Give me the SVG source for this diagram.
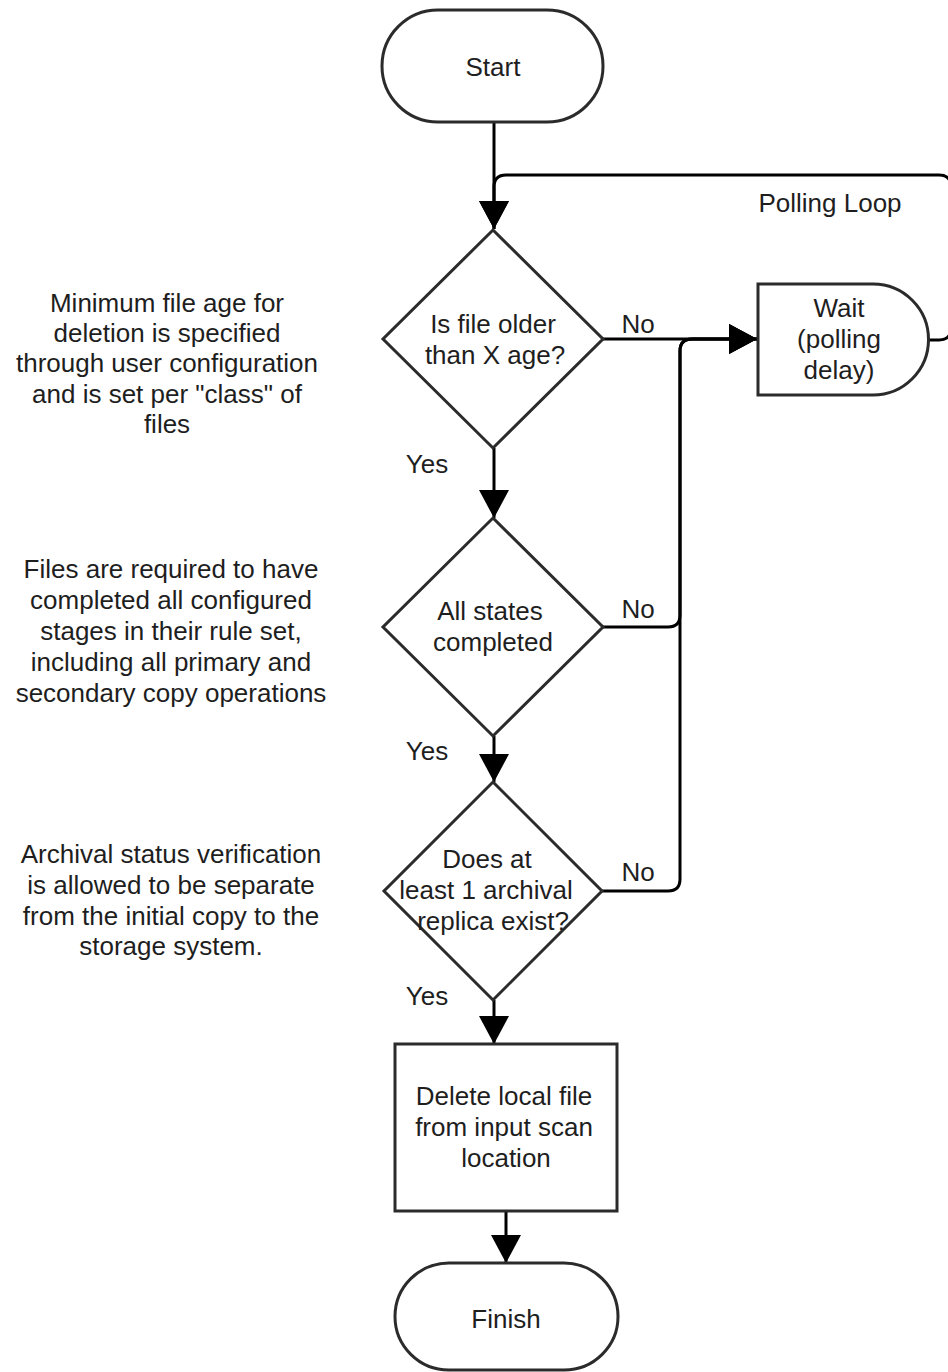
<svg xmlns="http://www.w3.org/2000/svg" width="948" height="1372" viewBox="0 0 948 1372">
  <style>
    .shape { fill: #ffffff; stroke: #2b2b2b; stroke-width: 3; }
    .edge { fill: none; stroke: #000000; stroke-width: 3; }
    text { font-family: "Liberation Sans", Arial, Helvetica, sans-serif; font-size: 26px; fill: #1e1e1e; }
    .c { text-anchor: middle; }
  </style>
  <defs>
    <marker id="arrow" markerUnits="userSpaceOnUse" markerWidth="30" markerHeight="30" refX="28" refY="15" orient="auto">
      <path d="M0,0 L28,15 L0,30 Z" fill="#000000"/>
    </marker>
  </defs>

  <rect width="948" height="1372" fill="#ffffff"/>

  <!-- connectors -->
  <g id="connectors">
    <path class="edge" d="M494,122 V229" marker-end="url(#arrow)"/>
    <path class="edge" d="M928,340 H939 Q951,340 951,328 V187 Q951,175 939,175 H506 Q494,175 494,187 V229" marker-end="url(#arrow)"/>
    <path class="edge" d="M603,339 H757" marker-end="url(#arrow)"/>
    <path class="edge" d="M603,627 H668 Q680,627 680,615 V351 Q680,339 692,339 H757" marker-end="url(#arrow)"/>
    <path class="edge" d="M602,891 H668 Q680,891 680,879 V351 Q680,339 692,339 H757" marker-end="url(#arrow)"/>
    <path class="edge" d="M494,448 V518" marker-end="url(#arrow)"/>
    <path class="edge" d="M494,736 V782" marker-end="url(#arrow)"/>
    <path class="edge" d="M494,1000 V1044" marker-end="url(#arrow)"/>
    <path class="edge" d="M506,1211 V1263" marker-end="url(#arrow)"/>
    <text x="830" y="212" class="c">Polling Loop</text>
    <text x="638" y="333" class="c">No</text>
    <text x="638" y="618" class="c">No</text>
    <text x="638" y="881" class="c">No</text>
    <text x="427" y="473" class="c">Yes</text>
    <text x="427" y="760" class="c">Yes</text>
    <text x="427" y="1005" class="c">Yes</text>
  </g>

  <!-- start terminator -->
  <g id="start">
    <rect class="shape" x="382" y="10" width="221" height="112" rx="56" ry="56"/>
    <text x="493" y="76" class="c">Start</text>
  </g>

  <!-- decision: file age -->
  <g id="check-age">
    <path class="shape" d="M493,230 L603,339 L493,448 L383,339 Z"/>
    <text x="493" y="333" class="c">Is file older</text>
    <text x="495" y="364" class="c">than X age?</text>
  </g>

  <!-- wait / polling delay -->
  <g id="wait">
    <path class="shape" d="M758,284 H873 A55.5,55.5 0 0 1 873,395 H758 Z"/>
    <text x="839" y="317" class="c">Wait</text>
    <text x="839" y="348" class="c">(polling</text>
    <text x="839" y="379" class="c">delay)</text>
  </g>

  <!-- decision: states completed -->
  <g id="check-states">
    <path class="shape" d="M493,518 L603,627 L493,736 L383,627 Z"/>
    <text x="490" y="620" class="c">All states</text>
    <text x="493" y="651" class="c">completed</text>
  </g>

  <!-- decision: archival replica -->
  <g id="check-replica">
    <path class="shape" d="M493,782 L602,891 L493,1000 L384,891 Z"/>
    <text x="487" y="868" class="c">Does at</text>
    <text x="486" y="899" class="c">least 1 archival</text>
    <text x="493" y="930" class="c">replica exist?</text>
  </g>

  <!-- delete action -->
  <g id="delete">
    <rect class="shape" x="395" y="1044" width="222" height="167"/>
    <text x="504" y="1105" class="c">Delete local file</text>
    <text x="504" y="1136" class="c">from input scan</text>
    <text x="506" y="1167" class="c">location</text>
  </g>

  <!-- finish terminator -->
  <g id="finish">
    <rect class="shape" x="395" y="1263" width="223" height="107" rx="54" ry="54"/>
    <text x="506" y="1328" class="c">Finish</text>
  </g>

  <!-- side notes -->
  <g id="note-age">
    <text x="167" y="312" class="c">Minimum file age for</text>
    <text x="167" y="342" class="c">deletion is specified</text>
    <text x="167" y="372" class="c">through user configuration</text>
    <text x="167" y="403" class="c">and is set per "class" of</text>
    <text x="167" y="433" class="c">files</text>
  </g>
  <g id="note-states">
    <text x="171" y="578" class="c">Files are required to have</text>
    <text x="171" y="609" class="c">completed all configured</text>
    <text x="171" y="640" class="c">stages in their rule set,</text>
    <text x="171" y="671" class="c">including all primary and</text>
    <text x="171" y="702" class="c">secondary copy operations</text>
  </g>
  <g id="note-replica">
    <text x="171" y="863" class="c">Archival status verification</text>
    <text x="171" y="894" class="c">is allowed to be separate</text>
    <text x="171" y="925" class="c">from the initial copy to the</text>
    <text x="171" y="955" class="c">storage system.</text>
  </g>
</svg>
